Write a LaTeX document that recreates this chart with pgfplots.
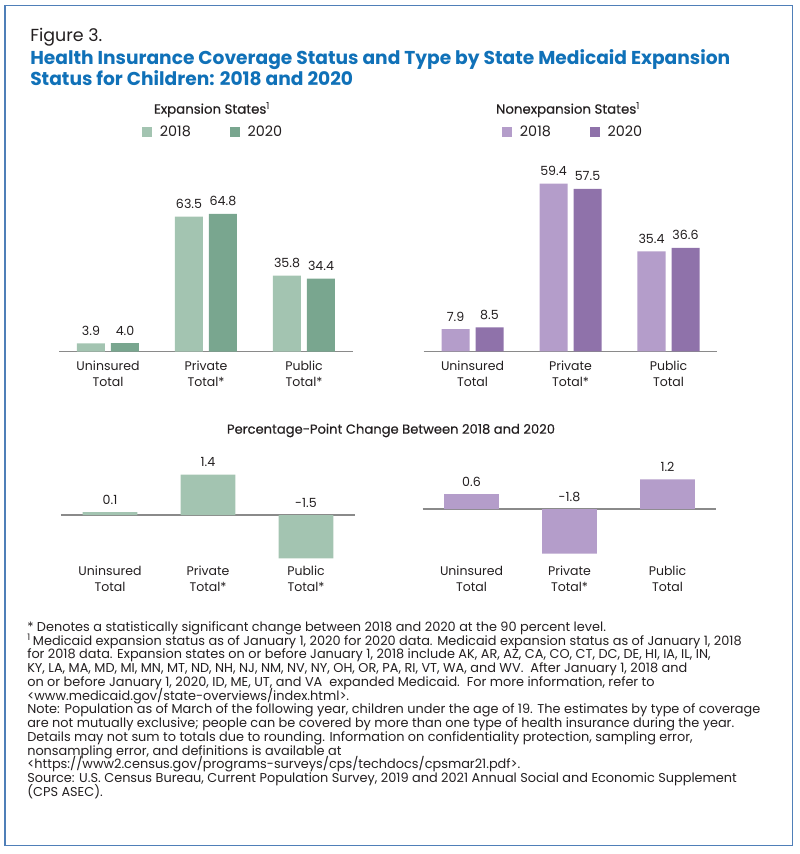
\documentclass[border=0pt]{standalone}
\usepackage{fontspec}
\setmainfont{Poppins}
\newfontfamily\medfont[FakeBold=0.4]{Poppins}
\usepackage{pgfplots}
\usepackage{pgfplotstable}
\pgfplotsset{compat=1.18}

\definecolor{gLight}{HTML}{A3C4B1}
\definecolor{gDark}{HTML}{79A68F}
\definecolor{pLight}{HTML}{B49DCA}
\definecolor{pDark}{HTML}{8F72AA}
\definecolor{titleblue}{HTML}{1071B8}
\definecolor{framec}{HTML}{4F7FB8}
\definecolor{basegray}{HTML}{8A8A8A}
\definecolor{txt}{HTML}{231F20}

% expansion states, 2018 and 2020
\pgfplotstableread{
x y
0 3.9
1 63.5
2 35.8
}\expA
\pgfplotstableread{
x y
0 4.0
1 64.8
2 34.4
}\expB
% nonexpansion states, 2018 and 2020
\pgfplotstableread{
x y
0 7.9
1 59.4
2 35.4
}\nonA
\pgfplotstableread{
x y
0 8.5
1 57.5
2 36.6
}\nonB
% percentage-point change (ly = where the label sits)
\pgfplotstableread{
x y ly
0 0.1 0.1
1 1.4 1.4
2 -1.5 0
}\expD
\pgfplotstableread{
x y ly
0 0.6 0.6
1 -1.8 0
2 1.2 1.2
}\nonD

% font size that makes #2 about #3 px wide
\newlength\tmpw
\newcommand\fitsize[3]{%
  \settowidth\tmpw{\fontsize{10pt}{12pt}\selectfont #2}%
  \pgfmathsetmacro#1{7.5*#3/\tmpw}%
}
\newcommand\catfont{\fontsize{\szCat pt}{11.6pt}\selectfont}
\newcommand\valfont{\fontsize{\szVal pt}{12pt}\selectfont}
\newcommand\legfont{\fontsize{\szLeg pt}{12pt}\selectfont}

\pgfplotsset{
  panel/.style={
    scale only axis, width=220.5pt,
    xmin=-0.5, xmax=2.5, xtick={0,1,2}, ytick=\empty,
    major tick length=0pt,
    axis line style={draw=none},
    extra y ticks={0}, extra y tick labels={},
    extra y tick style={grid=major, major grid style={draw=basegray, line width=0.9pt}},
    xticklabel style={font=\catfont, align=center, inner sep=0pt, anchor=north, text=txt},
    clip=false, anchor=south west,
    every node near coord/.append style={font=\valfont, anchor=base, inner sep=0pt, yshift=6pt, text=txt},
    legend image code/.code={\fill[##1] (0pt,-3.75pt) rectangle (7.5pt,3.75pt); \path (13.5pt,0pt);},
    legend style={draw=none, fill=none, inner sep=0pt, legend columns=2, anchor=west,
      nodes={inner sep=0pt, font=\legfont, text=txt},
      /tikz/every even column/.append style={column sep=29pt}},
  },
  first/.style={ybar, bar width=21pt, bar shift=-12.75pt, draw=none,
    nodes near coords, point meta=explicit symbolic,
    every node near coord/.append style={xshift=-12.75pt}},
  second/.style={ybar, bar width=21pt, bar shift=12.75pt, draw=none,
    nodes near coords, point meta=explicit symbolic,
    every node near coord/.append style={xshift=12.75pt}},
}

\begin{document}%
\fitsize\szFig{Figure 3.}{72}%
\fitsize\szTitle{\bfseries Health Insurance Coverage Status and Type by State Medicaid Expansion}{700}%
\fitsize\szSub{\medfont Expansion States\textsuperscript{1}}{116}%
\fitsize\szCat{Uninsured}{63}%
\fitsize\szVal{63.5}{26}%
\fitsize\szLeg{2018}{31}%
\fitsize\szPP{\medfont Percentage-Point Change Between 2018 and 2020}{328}%
\fitsize\szFn{Note: Population as of March of the following year, children under the age of 19. The estimates by type of coverage}{733}%
\begin{tikzpicture}[x=0.75pt,y=-0.75pt]
\path[use as bounding box] (0,0) rectangle (800,854);
\draw[framec, line width=1.1pt] (5,5.3) rectangle (792.3,845.5);
% lower left corners of the four plot areas
\coordinate (tl) at (59,361);
\coordinate (tr) at (423.5,361);
\coordinate (bl) at (61,566);
\coordinate (br) at (422.5,566);

\node[anchor=base west, inner sep=0pt, text=txt, font=\fontsize{\szFig pt}{20pt}\selectfont] at (30,41) {Figure 3.};
\node[anchor=base west, inner sep=0pt, text=titleblue, font=\fontsize{\szTitle pt}{20pt}\selectfont\bfseries] at (30,64) {Health Insurance Coverage Status and Type by State Medicaid Expansion};
\node[anchor=base west, inner sep=0pt, text=titleblue, font=\fontsize{\szTitle pt}{20pt}\selectfont\bfseries] at (30,85) {Status for Children: 2018 and 2020};

\node[anchor=base, inner sep=0pt, text=txt, font=\fontsize{\szSub pt}{12pt}\medfont] at (212,113.7) {Expansion States\textsuperscript{1}};
\node[anchor=base, inner sep=0pt, text=txt, font=\fontsize{\szSub pt}{12pt}\medfont] at (568,113.7) {Nonexpansion States\textsuperscript{1}};
\node[anchor=base, inner sep=0pt, text=txt, font=\fontsize{\szPP pt}{12pt}\medfont] at (391,433.7) {Percentage-Point Change Between 2018 and 2020};

% expansion states
\begin{axis}[panel, at={(tl)}, height=118.6pt, ymin=-4.37, ymax=70,
  xticklabels={{Uninsured\\Total},{Private\\Total*},{Public\\Total*}},
  legend style={at={(0.281,1.448)}}]
\addplot[first, fill=gLight] table[x=x, y=y, meta=y] {\expA};
\addplot[second, fill=gDark] table[x=x, y=y, meta=y] {\expB};
\legend{2018,2020}
\end{axis}

% nonexpansion states
\begin{axis}[panel, at={(tr)}, height=144.9pt, ymin=-3.43, ymax=65,
  xticklabels={{Uninsured\\Total},{Private\\Total*},{Public\\Total}},
  legend style={at={(0.266,1.1853)}}]
\addplot[first, fill=pLight] table[x=x, y=y, meta=y] {\nonA};
\addplot[second, fill=pDark] table[x=x, y=y, meta=y] {\nonB};
\legend{2018,2020}
\end{axis}

% change, expansion states
\begin{axis}[panel, at={(bl)}, height=81.6pt, ymin=-1.765, ymax=2,
  xticklabels={{Uninsured\\Total},{Private\\Total*},{Public\\Total*}}]
\addplot[ybar, bar width=40.9pt, bar shift=0pt, fill=gLight, draw=none] table[x=x, y=y] {\expD};
\addplot[draw=none, mark=none, nodes near coords, point meta=explicit symbolic] table[x=x, y=ly, meta=y] {\expD};
\end{axis}

% change, nonexpansion states
\begin{axis}[panel, at={(br)}, height=72.5pt, ymin=-2.298, ymax=1.6,
  xticklabels={{Uninsured\\Total},{Private\\Total*},{Public\\Total}}]
\addplot[ybar, bar width=40.9pt, bar shift=0pt, fill=pLight, draw=none] table[x=x, y=y] {\nonD};
\addplot[draw=none, mark=none, nodes near coords, point meta=explicit symbolic] table[x=x, y=ly, meta=y] {\nonD};
\end{axis}

% notes
\begin{scope}[every node/.style={anchor=base west, inner sep=0pt, text=txt, font=\fontsize{\szFn pt}{10.3pt}\selectfont}]
\node at (27,631.2) {* Denotes a statistically significant change between 2018 and 2020 at the 90 percent level.};
\node at (27,645.0) {\textsuperscript{1}\,Medicaid expansion status as of January 1, 2020 for 2020 data. Medicaid expansion status as of January 1, 2018};
\node at (27,658.7) {for 2018 data. Expansion states on or before January 1, 2018 include AK, AR, AZ, CA, CO, CT, DC, DE, HI, IA, IL, IN,};
\node at (27,672.5) {KY, LA, MA, MD, MI, MN, MT, ND, NH, NJ, NM, NV, NY, OH, OR, PA, RI, VT, WA, and WV.\ \ After January 1, 2018 and};
\node at (27,686.2) {on or before January 1, 2020, ID, ME, UT, and VA\ \ expanded Medicaid.\ \ For more information, refer to};
\node at (27,700.0) {<www.medicaid.gov/state-overviews/index.html>.};
\node at (27,713.7) {Note: Population as of March of the following year, children under the age of 19. The estimates by type of coverage};
\node at (27,727.5) {are not mutually exclusive; people can be covered by more than one type of health insurance during the year.};
\node at (27,741.2) {Details may not sum to totals due to rounding. Information on confidentiality protection, sampling error,};
\node at (27,755.0) {nonsampling error, and definitions is available at};
\node at (27,768.7) {<https://www2.census.gov/programs-surveys/cps/techdocs/cpsmar21.pdf>.};
\node at (27,782.5) {Source: U.S. Census Bureau, Current Population Survey, 2019 and 2021 Annual Social and Economic Supplement};
\node at (27,796.2) {(CPS ASEC).};
\end{scope}
\end{tikzpicture}%
\end{document}
